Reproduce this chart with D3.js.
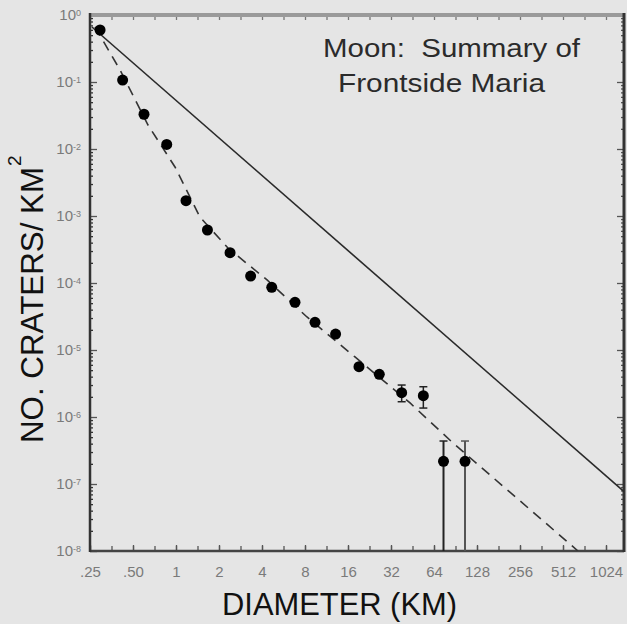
<!DOCTYPE html>
<html>
<head>
<meta charset="utf-8">
<script src="https://cdn.jsdelivr.net/npm/d3@7"></script>
<style>
  body { margin: 0; background: #e5e5e5; }
  svg { display: block; font-family: "Liberation Sans", Arial, sans-serif; }
</style>
</head>
<body>
<div id="chart"></div>
<script>
// crater counts (diameter km, craters per km^2)
let diameter = [0.294, 0.423, 0.597, 0.861, 1.175, 1.66, 2.39, 3.33, 4.68, 6.81, 9.40, 13.1, 19.1, 26.5, 38.0, 53.9, 74.6, 105.5];
let density = [0.597, 0.107, 0.033, 0.0117, 1.69e-3, 6.18e-4, 2.83e-4, 1.27e-4, 8.63e-5, 5.15e-5, 2.59e-5, 1.73e-5, 5.63e-6, 4.34e-6, 2.31e-6, 2.08e-6, 2.18e-7, 2.18e-7];
// error bars, only on the last four points
let errIndex = [14, 15, 16, 17];
let errHigh = [3.0e-6, 2.83e-6, 4.38e-7, 4.38e-7];
let errLow = [1.69e-6, 1.36e-6, 1e-8, 1e-8];

// dashed fit curve
let fitDiam = [0.271, 0.406, 0.637, 0.984, 1.47, 2.31, 4.34, 8.26, 17.9, 43.5, 87.0, 652];
let fitDensity = [0.662, 0.151, 0.0228, 5.39e-3, 9.66e-4, 3.33e-4, 1.11e-4, 3.11e-5, 7.87e-6, 1.62e-6, 4.09e-7, 1e-8];

// solid saturation line
let satDiam = [0.258, 1370];
let satDensity = [0.662, 7.7e-8];

let xTickValues = [0.25, 0.5, 1, 2, 4, 8, 16, 32, 64, 128, 256, 512, 1024];
let xTickLabels = ['.25', '.50', '1', '2', '4', '8', '16', '32', '64', '128', '256', '512', '1024'];
let yExponents = [0, -1, -2, -3, -4, -5, -6, -7, -8];

let chart_width = 627;
let chart_height = 624;
let plotLeft = 90, plotRight = 624, plotTop = 15, plotBottom = 551;

let xScale = d3.scaleLog().base(2).domain([0.25, 1024]).range([plotLeft, 606]);
let yScale = d3.scaleLog().domain([1e-8, 1]).range([plotBottom, plotTop]);

let svg = d3.select('#chart')
    .append('svg')
    .attr('width', chart_width)
    .attr('height', chart_height);

svg.append('rect')
    .attr('width', chart_width)
    .attr('height', chart_height)
    .attr('fill', '#e5e5e5');

svg.append('clipPath')
    .attr('id', 'plotClip')
    .append('rect')
    .attr('x', plotLeft)
    .attr('y', plotTop)
    .attr('width', plotRight - plotLeft)
    .attr('height', plotBottom - plotTop);

// tick positions
let xMinor = d3.range(0, 25).map(k => 0.25 * Math.pow(2, k / 2));
let yMajor = yExponents.map(e => Math.pow(10, e));
let yMinor = [];
yExponents.slice(1).forEach(function(e){
    for(let m = 2; m <= 9; m++){
        yMinor.push(m * Math.pow(10, e));
    }
});

function styleTicks(g, color){
    g.select('.domain').remove();
    g.selectAll('.tick line').attr('stroke', color).attr('stroke-width', 1.3);
}

// bottom axis
svg.append('g')
    .attr('transform', 'translate(0,' + plotBottom + ')')
    .call(d3.axisBottom(xScale).tickValues(xMinor).tickFormat('').tickSizeInner(-5).tickSizeOuter(0))
    .call(g => styleTicks(g, '#555'));

svg.append('g')
    .attr('transform', 'translate(0,' + plotBottom + ')')
    .call(d3.axisBottom(xScale).tickValues(xTickValues).tickFormat((d, i) => xTickLabels[i])
        .tickSizeInner(-6).tickSizeOuter(0).tickPadding(15))
    .call(g => styleTicks(g, '#555'))
    .call(g => g.selectAll('.tick text')
        .attr('fill', '#7a7a7a')
        .style('font-size', '15px')
        .style('font-family', '"Liberation Sans", Arial, sans-serif'));

// top axis
svg.append('g')
    .attr('transform', 'translate(0,' + plotTop + ')')
    .call(d3.axisTop(xScale).tickValues(xMinor).tickFormat('').tickSizeInner(-5).tickSizeOuter(0))
    .call(g => styleTicks(g, '#777'));

// left axis
svg.append('g')
    .attr('transform', 'translate(' + plotLeft + ',0)')
    .call(d3.axisLeft(yScale).tickValues(yMinor).tickFormat('').tickSizeInner(-3).tickSizeOuter(0))
    .call(g => styleTicks(g, '#333'));

svg.append('g')
    .attr('transform', 'translate(' + plotLeft + ',0)')
    .call(d3.axisLeft(yScale).tickValues(yMajor).tickFormat('').tickSizeInner(-7).tickSizeOuter(0).tickPadding(9))
    .call(g => styleTicks(g, '#555'))
    .call(function(g){
        let t = g.selectAll('.tick text')
            .attr('fill', '#7a7a7a')
            .style('font-size', '15px')
            .style('font-family', '"Liberation Sans", Arial, sans-serif');
        t.append('tspan').text('10');
        t.append('tspan')
            .attr('dy', '-0.45em')
            .style('font-size', '9px')
            .text((d, i) => yExponents[i] === 0 ? '0' : '-' + (-yExponents[i]));
    });

// right axis
svg.append('g')
    .attr('transform', 'translate(' + plotRight + ',0)')
    .call(d3.axisRight(yScale).tickValues(yMinor).tickFormat('').tickSizeInner(-3).tickSizeOuter(0))
    .call(g => styleTicks(g, '#555'));

svg.append('g')
    .attr('transform', 'translate(' + plotRight + ',0)')
    .call(d3.axisRight(yScale).tickValues(yMajor).tickFormat('').tickSizeInner(-7).tickSizeOuter(0))
    .call(g => styleTicks(g, '#555'));

// frame
svg.append('line')
    .attr('x1', plotLeft).attr('x2', plotRight + 1)
    .attr('y1', plotTop).attr('y2', plotTop)
    .attr('stroke', '#9a9a9a').attr('stroke-width', 4);
svg.append('line')
    .attr('x1', plotLeft).attr('x2', plotRight)
    .attr('y1', plotBottom).attr('y2', plotBottom)
    .attr('stroke', '#444').attr('stroke-width', 2.5);
svg.append('line')
    .attr('x1', plotLeft).attr('x2', plotLeft)
    .attr('y1', plotTop - 2).attr('y2', plotBottom + 1)
    .attr('stroke', '#333').attr('stroke-width', 2.5);
svg.append('line')
    .attr('x1', plotRight).attr('x2', plotRight)
    .attr('y1', plotTop - 2).attr('y2', plotBottom + 1)
    .attr('stroke', '#333').attr('stroke-width', 3);

// lines
let plot = svg.append('g').attr('clip-path', 'url(#plotClip)');

let lineGen = d3.line()
    .x(d => xScale(d[0]))
    .y(d => yScale(d[1]));

plot.append('path')
    .datum(satDiam.map((d, i) => [d, satDensity[i]]))
    .attr('d', lineGen)
    .attr('fill', 'none')
    .attr('stroke', '#2a2a2a')
    .attr('stroke-width', 1.6);

plot.append('path')
    .datum(fitDiam.map((d, i) => [d, fitDensity[i]]))
    .attr('d', lineGen)
    .attr('fill', 'none')
    .attr('stroke', '#333')
    .attr('stroke-width', 1.6)
    .attr('stroke-dasharray', '10,7');

// error bars
errIndex.forEach(function(idx, i){
    let cx = xScale(diameter[idx]);
    let g = plot.append('g');
    let col = i === 3 ? '#555' : '#222';
    g.append('line')
        .attr('x1', cx).attr('x2', cx)
        .attr('y1', yScale(errHigh[i])).attr('y2', yScale(errLow[i]))
        .attr('stroke', col).attr('stroke-width', i >= 2 ? 2 : 1.5);
    g.append('line')
        .attr('x1', cx - 4).attr('x2', cx + 4)
        .attr('y1', yScale(errHigh[i])).attr('y2', yScale(errHigh[i]))
        .attr('stroke', col).attr('stroke-width', 1.5);
    if(errLow[i] > 1e-8){
        g.append('line')
            .attr('x1', cx - 4).attr('x2', cx + 4)
            .attr('y1', yScale(errLow[i])).attr('y2', yScale(errLow[i]))
            .attr('stroke', col).attr('stroke-width', 1.5);
    }
});

// points
plot.append('g')
    .selectAll('circle')
    .data(diameter)
    .enter()
    .append('circle')
    .attr('cx', d => xScale(d))
    .attr('cy', (d, i) => yScale(density[i]))
    .attr('r', 5.5)
    .attr('fill', '#000');

// inset title
svg.append('text')
    .attr('x', 323).attr('y', 57)
    .attr('textLength', 257).attr('lengthAdjust', 'spacingAndGlyphs')
    .style('white-space', 'pre')
    .style('font-size', '26px')
    .attr('fill', '#2b2b2b')
    .text('Moon:  Summary of');
svg.append('text')
    .attr('x', 338).attr('y', 92)
    .attr('textLength', 207).attr('lengthAdjust', 'spacingAndGlyphs')
    .style('font-size', '26px')
    .attr('fill', '#2b2b2b')
    .text('Frontside Maria');

// axis titles
svg.append('text')
    .attr('x', 222).attr('y', 615)
    .attr('textLength', 235).attr('lengthAdjust', 'spacingAndGlyphs')
    .style('font-size', '32px')
    .attr('fill', '#111')
    .text('DIAMETER (KM)');

svg.append('text')
    .attr('transform', 'translate(43,443) rotate(-90)')
    .attr('textLength', 276).attr('lengthAdjust', 'spacingAndGlyphs')
    .style('font-size', '31px')
    .attr('fill', '#111')
    .text('NO. CRATERS/ KM');
svg.append('text')
    .attr('transform', 'translate(21,166) rotate(-90)')
    .style('font-size', '19px')
    .attr('fill', '#111')
    .text('2');
</script>
</body>
</html>
